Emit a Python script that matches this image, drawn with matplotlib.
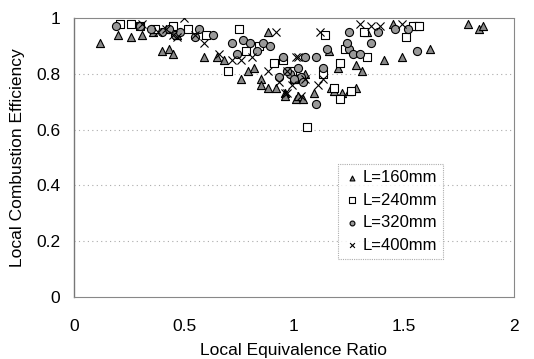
import matplotlib
matplotlib.use("Agg")
import matplotlib.pyplot as plt

tri_x = [0.12,0.20,0.26,0.31,0.40,0.43,0.45,0.59,0.65,0.68,0.88,0.76,0.79,0.82,0.85,0.85,0.88,0.92,0.96,1.01,0.96,1.02,1.04,1.09,1.17,1.18,1.22,1.25,1.28,1.28,1.31,1.41,1.49,1.62,1.79,1.84,1.86,1.45,1.33,1.16,0.36,0.42,0.47,1.00,1.05,1.20]
tri_y = [0.91,0.94,0.93,0.94,0.88,0.89,0.87,0.86,0.86,0.85,0.95,0.78,0.81,0.82,0.78,0.76,0.75,0.75,0.73,0.71,0.72,0.72,0.71,0.73,0.75,0.74,0.73,0.74,0.75,0.83,0.81,0.85,0.86,0.89,0.98,0.96,0.97,0.98,0.95,0.88,0.95,0.96,0.94,0.78,0.80,0.82]

sq_x = [0.21,0.26,0.52,0.75,0.70,0.78,0.84,0.95,0.91,0.99,0.45,0.60,1.06,1.00,1.21,1.13,1.23,1.32,1.33,1.18,1.21,1.26,1.56,1.51,1.14,1.54,1.57,0.37,0.30]
sq_y = [0.98,0.98,0.96,0.96,0.81,0.88,0.90,0.85,0.84,0.81,0.97,0.94,0.61,0.78,0.84,0.80,0.89,0.95,0.86,0.75,0.71,0.74,0.97,0.93,0.94,0.97,0.97,0.96,0.97]

ci_x = [0.19,0.55,0.57,0.63,0.72,0.77,0.80,0.86,0.89,0.95,1.25,1.35,1.56,1.10,1.10,1.05,1.25,1.15,1.13,1.03,1.46,1.52,1.38,0.30,0.35,0.40,0.43,0.46,0.48,0.98,1.00,1.02,1.04,0.93,0.97,1.27,1.30,1.24,0.83,0.74]
ci_y = [0.97,0.93,0.96,0.94,0.91,0.92,0.91,0.91,0.90,0.86,0.95,0.91,0.88,0.69,0.86,0.86,0.89,0.89,0.82,0.79,0.96,0.96,0.95,0.97,0.96,0.95,0.96,0.94,0.95,0.80,0.78,0.82,0.77,0.79,0.81,0.87,0.87,0.91,0.88,0.87]

cr_x = [0.50,0.92,0.59,0.66,0.72,0.76,0.81,0.88,0.97,1.01,0.47,0.31,1.30,1.12,1.39,1.49,1.02,0.97,0.96,1.11,1.03,1.13,1.35,0.38,0.42,0.45,0.99,1.05,0.93,0.55]
cr_y = [1.00,0.95,0.91,0.87,0.85,0.85,0.86,0.81,0.73,0.86,0.93,0.98,0.98,0.95,0.97,0.98,0.86,0.81,0.73,0.76,0.72,0.78,0.97,0.95,0.96,0.94,0.76,0.78,0.77,0.94]

labels = ["L=160mm", "L=240mm", "L=320mm", "L=400mm"]
xticks = [0, 0.5, 1, 1.5, 2]
xticklabels = ["0", "0.5", "1", "1.5", "2"]
yticks = [0, 0.2, 0.4, 0.6, 0.8, 1]
yticklabels = ["0", "0.2", "0.4", "0.6", "0.8", "1"]

plt.rcParams['font.family'] = ['Liberation Sans', 'DejaVu Sans']
fig = plt.figure(figsize=(5.34, 3.59), dpi=100)
ax = fig.add_axes([0.1386, 0.1727, 0.8239, 0.7773])

ax.scatter(tri_x, tri_y, marker='^', s=34, facecolor='#888888', edgecolor='black', linewidth=0.8, label=labels[0], zorder=3)
ax.scatter(sq_x, sq_y, marker='s', s=40, facecolor='white', edgecolor='black', linewidth=0.8, label=labels[1], zorder=3)
ax.scatter(ci_x, ci_y, marker='o', s=34, facecolor='#999999', edgecolor='black', linewidth=0.8, label=labels[2], zorder=3)
ax.scatter(cr_x, cr_y, marker='x', s=34, color='black', linewidth=0.8, label=labels[3], zorder=3)

ax.set_xlim(0, 2)
ax.set_ylim(0, 1)
ax.set_xticks(xticks)
ax.set_xticklabels(xticklabels)
ax.set_yticks(yticks)
ax.set_yticklabels(yticklabels)
ax.tick_params(axis='x', length=0, labelsize=12.5, pad=16)
ax.tick_params(axis='y', length=0, labelsize=12.5, pad=10)
for yv in yticks[1:-1]:
    ax.axhline(yv, color='#aaaaaa', linestyle=(0, (1, 3)), linewidth=0.8, zorder=1)
for side in ['top', 'right', 'bottom']:
    ax.spines[side].set_color('#888888')
    ax.spines[side].set_linestyle((0, (1, 1)))
    ax.spines[side].set_linewidth(0.8)
ax.spines['left'].set_color('#777777')
ax.spines['left'].set_linewidth(1.0)

ax.set_xlabel("Local Equivalence Ratio", fontsize=12.5, labelpad=6)
ax.set_ylabel("Local Combustion Efficiency", fontsize=12.5, labelpad=8)

leg = ax.legend(loc='upper left', bbox_to_anchor=(0.6, 0.475), fontsize=12, frameon=True,
                handletextpad=0.1, borderpad=0.35, labelspacing=0.45, markerscale=0.6,
                handlelength=1.0, fancybox=False, borderaxespad=0)
leg.get_frame().set_edgecolor('#999999')
leg.get_frame().set_linestyle((0, (1, 1)))
leg.get_frame().set_linewidth(0.8)

fig.savefig("out.png", dpi=100)
